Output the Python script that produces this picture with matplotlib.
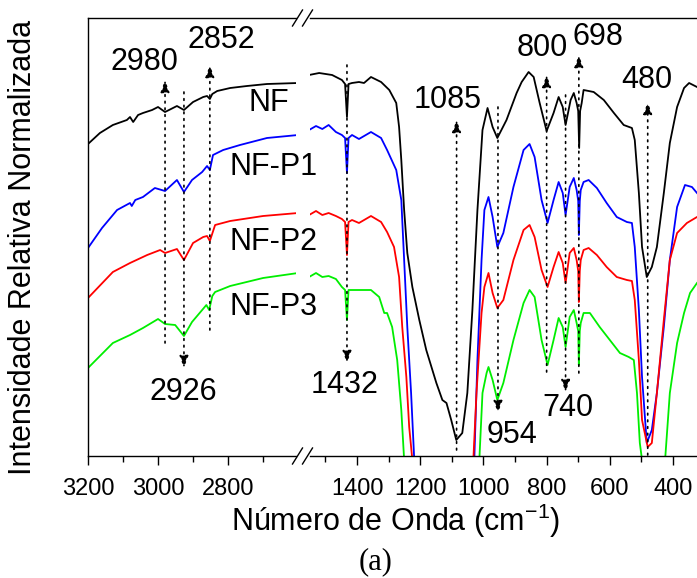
import matplotlib
matplotlib.use("Agg")
import matplotlib.pyplot as plt
from matplotlib.lines import Line2D

plt.rcParams['font.family'] = ['Liberation Sans', 'DejaVu Sans']

# ---- spectra (wavenumber in cm-1, offset intensity in arbitrary units) ----
nf_left_wn = [3200, 3166, 3129, 3089, 3080, 3071, 3057, 3043, 3017, 3000, 2980, 2946, 2926,
              2900, 2871, 2860, 2852, 2845, 2831, 2794, 2746, 2689, 2600]
nf_left = [312, 323, 331, 336, 339, 334, 341, 343, 346, 349, 344, 350, 346,
           354, 359, 360, 357, 362, 365, 368, 370, 372, 373]

nf_right_wn = [1552, 1520, 1479, 1448, 1438, 1432, 1427, 1416, 1394, 1378, 1356, 1324, 1298,
               1276, 1267, 1260, 1251, 1241, 1225, 1203, 1181, 1149, 1130, 1117, 1102, 1086,
               1067, 1051, 1035, 1019, 1003, 987, 971, 956, 927, 895, 879, 857, 841, 822, 800,
               778, 762, 749, 740, 724, 714, 705, 700, 697, 694, 689, 683, 651, 619, 587, 556,
               530, 521, 508, 498, 483, 467, 451, 429, 410, 387, 365, 349, 324]
nf_right = [381, 383, 381, 376, 372, 339, 372, 373, 374, 373, 379, 374, 366,
            353, 329, 296, 246, 203, 169, 136, 106, 73, 56, 53, 36, 16,
            23, 63, 146, 246, 326, 348, 329, 318, 336, 363, 374, 384, 379, 353, 325,
            343, 359, 349, 331, 356, 363, 353, 345, 308, 345, 353, 366, 364, 356, 343, 331,
            328, 316, 263, 209, 179, 189, 209, 263, 313, 349, 368, 373, 369]

p1_left_wn = [3200, 3160, 3117, 3080, 3075, 3065, 3043, 3009, 2980, 2946, 2926, 2903, 2874,
              2860, 2852, 2843, 2814, 2766, 2689, 2600]
p1_left = [208, 228, 246, 253, 250, 256, 259, 268, 265, 276, 264, 276, 284,
           290, 286, 301, 306, 311, 318, 321]

p1_right_wn = [1552, 1530, 1510, 1490, 1467, 1448, 1438, 1432, 1427, 1416, 1394, 1356, 1324,
               1305, 1276, 1260, 1251, 1241, 1229, 1219, 1130, 1029, 1019, 1006, 997, 984, 971,
               956, 937, 905, 873, 854, 838, 816, 797, 778, 762, 749, 740, 727, 714, 705, 700,
               698, 695, 692, 683, 667, 641, 610, 578, 546, 530, 521, 508, 498, 483, 467, 451,
               429, 410, 387, 362, 340, 324]
p1_right = [326, 330, 327, 331, 324, 321, 318, 283, 318, 321, 317, 324, 318,
            306, 286, 256, 196, 129, 63, -4, -60, -4, 96, 196, 246, 259, 239,
            209, 223, 269, 306, 312, 299, 256, 233, 256, 274, 263, 241, 269, 278, 266, 255,
            221, 255, 266, 274, 276, 268, 253, 239, 234, 233, 209, 146, 79, 13, 26, 63,
            129, 196, 249, 271, 269, 263]

p2_left_wn = [3200, 3129, 3080, 3031, 2994, 2980, 2946, 2926, 2900, 2871, 2860, 2852, 2837,
              2794, 2700, 2600]
p2_left = [158, 184, 193, 201, 206, 203, 207, 196, 213, 219, 220, 215, 231,
           235, 240, 243]

p2_right_wn = [1552, 1530, 1510, 1490, 1467, 1448, 1438, 1432, 1427, 1416, 1394, 1356, 1324,
               1305, 1283, 1267, 1257, 1244, 1235, 1225, 1130, 1032, 1022, 1006, 997, 984, 971,
               956, 937, 905, 873, 854, 838, 816, 797, 778, 762, 749, 740, 727, 714, 705, 700,
               698, 695, 692, 683, 667, 641, 610, 578, 546, 530, 521, 508, 498, 480, 467, 451,
               429, 410, 387, 356, 324]
p2_right = [241, 245, 241, 243, 240, 237, 234, 201, 234, 236, 233, 240, 234,
            224, 209, 179, 129, 79, 29, -4, -60, -4, 63, 143, 169, 183, 163,
            148, 156, 196, 226, 231, 219, 186, 169, 189, 204, 193, 173, 203, 208, 196, 185,
            154, 185, 196, 206, 208, 201, 189, 179, 176, 175, 156, 96, 36, 9, 13, 63,
            136, 196, 223, 233, 239]

p3_left_wn = [3200, 3129, 3080, 3043, 3000, 2980, 2951, 2926, 2903, 2874, 2862, 2854, 2845,
              2837, 2794, 2700, 2600]
p3_left = [88, 113, 121, 128, 137, 132, 131, 120, 134, 146, 151, 146, 160,
           164, 170, 178, 183]

p3_right_wn = [1552, 1530, 1510, 1490, 1467, 1448, 1438, 1432, 1427, 1416, 1387, 1356, 1330,
               1314, 1305, 1289, 1273, 1260, 1251, 1130, 1013, 1003, 990, 984, 971, 956, 937,
               905, 873, 854, 838, 816, 797, 778, 762, 749, 740, 727, 714, 705, 700, 698, 695,
               692, 683, 663, 632, 600, 568, 540, 524, 514, 505, 498, 460, 425, 410, 387, 365,
               346, 324]
p3_right = [179, 183, 179, 180, 177, 169, 166, 136, 166, 166, 166, 166, 159,
            143, 143, 129, 96, 46, -4, -60, -4, 63, 83, 89, 76, 56, 73,
            116, 153, 166, 159, 116, 91, 116, 138, 129, 109, 139, 146, 133, 125, 91, 125,
            133, 143, 143, 129, 116, 103, 99, 96, 63, 13, -4, -60, -4, 63, 113, 143,
            163, 173]

# sample names and colours
names = ['NF', 'NF-P1', 'NF-P2', 'NF-P3']
colors = ['black', '#0000ff', '#ff0000', '#00ee00']
name_pos = [(2683, 353), (2671, 289), (2671, 214), (2671, 149)]

# band markers: wavenumber, line start, arrow tip, label position
bands_left = [(2980, 113, 376, (3040, 394)),
              (2926, 364, 88, (2927, 64)),
              (2852, 126, 391, (2820, 416))]
bands_right = [(1432, 391, 93, (1441, 71)),
               (1085, 6, 336, (1113, 356)),
               (954, 349, 43, (910, 21)),
               (800, 84, 381, (813, 408)),
               (740, 361, 64, (733, 48)),
               (698, 83, 401, (638, 419)),
               (480, 1, 354, (483, 376))]

W, H = 697, 578
fig = plt.figure(figsize=(W / 100, H / 100), dpi=100)
bottom = (H - 456) / H
height = 438 / H
ax1 = fig.add_axes([88 / W, bottom, 208 / W, height])
ax2 = fig.add_axes([310 / W, bottom, 387 / W, height])
ax1.patch.set_visible(False)
ax2.patch.set_visible(False)

lw = 1.3
left_sets = [(nf_left_wn, nf_left), (p1_left_wn, p1_left), (p2_left_wn, p2_left), (p3_left_wn, p3_left)]
right_sets = [(nf_right_wn, nf_right), (p1_right_wn, p1_right), (p2_right_wn, p2_right), (p3_right_wn, p3_right)]
for (xl, yl), (xr, yr), c in zip(left_sets, right_sets, colors):
    ax1.plot(xl, yl, color=c, lw=lw)
    ax2.plot(xr, yr, color=c, lw=lw)

ax1.set_xlim(3200, 2606)
ax2.set_xlim(1549, 324)
for ax in (ax1, ax2):
    ax.set_ylim(0, 438)
    ax.set_yticks([])
    ax.tick_params(axis='x', which='major', direction='out', length=6.5, width=1,
                   labelsize=17, pad=9)
    ax.tick_params(axis='x', which='minor', direction='out', length=4, width=1)
    for s in ax.spines.values():
        s.set_linewidth(1.0)

ax1.set_xticks([3200, 3000, 2800])
ax1.set_xticks([3100, 2900, 2700], minor=True)
ax2.set_xticks([1400, 1200, 1000, 800, 600, 400])
ax2.set_xticks([1500, 1300, 1100, 900, 700, 500], minor=True)
ax1.spines['right'].set_visible(False)
ax2.spines['left'].set_visible(False)
ax2.spines['right'].set_visible(False)

dot = (0, (1, 3))
arrow_style = '-|>,head_length=0.6,head_width=0.22'


def mark_band(ax, wn, y0, y1, pos):
    ax.annotate('', xy=(wn, y1), xytext=(wn, y0),
                arrowprops=dict(arrowstyle=arrow_style, color='black', lw=1.2,
                                linestyle=dot, shrinkA=0, shrinkB=0, mutation_scale=12))
    ax.text(pos[0], pos[1], str(wn), fontsize=22, ha='center', va='center')


for b in bands_left:
    mark_band(ax1, *b)
for b in bands_right:
    mark_band(ax2, *b)

for name, (x, y) in zip(names, name_pos):
    ax1.text(x, y, name, fontsize=22, ha='center', va='center', zorder=5)

# axis break marks on top and bottom spines
for py in (18, 456):
    for px in (297.5, 307.5):
        fig.add_artist(Line2D([(px - 5) / W, (px + 5) / W],
                              [1 - (py + 8) / H, 1 - (py - 8) / H],
                              color='black', lw=1.0))

fig.text(23 / W, 1 - 247 / H, 'Intensidade Relativa Normalizada', rotation=90,
         fontsize=22, ha='center', va='center')
fig.text(396 / W, 1 - 521 / H, r'Número de Onda (cm$^{\mathregular{-1}}$)',
         fontsize=22, ha='center', va='center')
fig.text(376 / W, 1 - 562 / H, '(a)', fontsize=22, ha='center', va='center',
         family='Liberation Serif')

fig.savefig('out.png', dpi=100)
